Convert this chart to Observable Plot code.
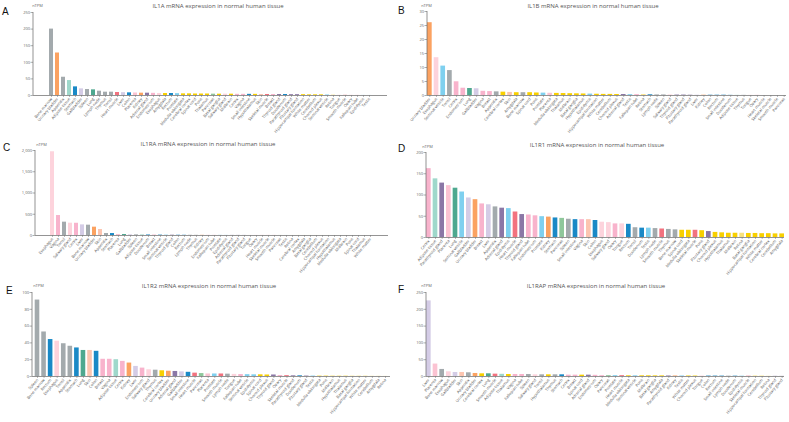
<!DOCTYPE html>
<html><head><meta charset="utf-8">
<script src="https://cdn.jsdelivr.net/npm/d3@7"></script>
<script src="https://cdn.jsdelivr.net/npm/@observablehq/plot@0.6"></script>
<style>
body{margin:0;background:#fff;}
#fig{position:relative;width:789px;height:422px;overflow:hidden;font-family:"Open Sans",sans-serif;}
.panel{position:absolute;}
.panel svg{overflow:visible;display:block;}
#overlay{position:absolute;left:0;top:0;pointer-events:none;}
</style></head><body><div id="fig"></div>
<script>
// ---------- data ----------
const tissueGroup = {
 "Bone marrow":"lymphoid","Spleen":"lymphoid","Lymph node":"lymphoid","Thymus":"lymphoid","Tonsil":"lymphoid","Appendix":"lymphoid",
 "Urinary bladder":"kidney","Kidney":"kidney",
 "Adipose tissue":"adipose",
 "Stomach":"gi","Duodenum":"gi","Small intestine":"gi","Colon":"gi","Rectum":"gi",
 "Liver":"liver","Gallbladder":"liver",
 "Lung":"lung",
 "Endometrium":"female","Cervix":"female","Vagina":"female","Fallopian tube":"female","Ovary":"female","Breast":"female",
 "Placenta":"placenta",
 "Esophagus":"proximal","Salivary gland":"proximal","Tongue":"proximal",
 "Adrenal gland":"endocrine","Thyroid gland":"endocrine","Parathyroid gland":"endocrine","Pituitary gland":"endocrine",
 "Testis":"male","Epididymis":"male","Prostate":"male","Seminal vesicle":"male",
 "Heart muscle":"muscle","Skeletal muscle":"muscle","Smooth muscle":"muscle",
 "Skin":"skin",
 "Amygdala":"brain","Basal ganglia":"brain","Cerebellum":"brain","Cerebral cortex":"brain","Choroid plexus":"brain",
 "Hippocampal formation":"brain","Hypothalamus":"brain","Medulla oblongata":"brain","Midbrain":"brain","Pons":"brain",
 "Spinal cord":"brain","Thalamus":"brain","White matter":"brain",
 "Retina":"eye","Pancreas":"pancreas"
};

const il1aTissues = ["Bone marrow","Urinary bladder","Appendix","Adipose tissue","Stomach","Gallbladder","Spleen","Lung","Lymph node","Thymus","Tonsil","Heart muscle","Liver","Colon","Placenta","Kidney","Adrenal gland","Endometrium","Esophagus","Amygdala","Rectum","Prostate","Medulla oblongata","Cerebral cortex","Spinal cord","Pons","Thalamus","Pancreas","Basal ganglia","Salivary gland","Midbrain","Cervix","Vagina","Small intestine","Hypothalamus","Skin","Skeletal muscle","Breast","Thyroid gland","Duodenum","Parathyroid gland","Pituitary gland","Hippocampal formation","White matter","Cerebellum","Choroid plexus","Seminal vesicle","Retina","Tongue","Smooth muscle","Ovary","Fallopian tube","Epididymis","Testis"];
const il1aValues = [200,128,55,45,26,20,18,17,13,10,10,9,8.5,8,7.5,7,7,6.5,6,6,6,5.5,5,5,4.5,4.5,4.5,4,4,4,4,3.5,3.5,3.5,3.5,3,3,3,3,3,2.5,2.5,2.5,2,2,2,1.5,1,0.5,0.5,0.3,0.3,0.2,0.1];
const il1aTicks = [0,50,100,150,200,250];

const il1bTissues = ["Urinary bladder","Esophagus","Seminal vesicle","Tonsil","Cervix","Endometrium","Lung","Gallbladder","Vagina","Breast","Appendix","Cerebral cortex","Skin","Amygdala","Bone marrow","Spinal cord","Pons","Prostate","Placenta","Medulla oblongata","Thalamus","Midbrain","Basal ganglia","Hypothalamus","Epididymis","Hippocampal formation","White matter","Cerebellum","Choroid plexus","Adrenal gland","Testis","Fallopian tube","Retina","Stomach","Lymph node","Spleen","Salivary gland","Thyroid gland","Pituitary gland","Parathyroid gland","Liver","Kidney","Colon","Rectum","Small intestine","Duodenum","Adipose tissue","Thymus","Tongue","Ovary","Heart muscle","Skeletal muscle","Smooth muscle","Pancreas"];
const il1bValues = [26,13.5,10.5,8.9,4.9,2.6,2.5,2.4,1.5,1.4,1.3,1.2,1.1,1.0,1.0,1.0,0.9,0.85,0.8,0.75,0.7,0.65,0.6,0.55,0.5,0.45,0.4,0.4,0.35,0.35,0.3,0.3,0.3,0.25,0.2,0.2,0.2,0.15,0.15,0.1,0.1,0.1,0.1,0.1,0.1,0.05,0.05,0.05,0.05,0.05,0,0,0,0];
const il1bTicks = [0,5,10,15,20,25,30];

const il1raTissues = ["Esophagus","Vagina","Tonsil","Salivary gland","Cervix","Liver","Bone marrow","Urinary bladder","Skin","Appendix","Stomach","Placenta","Lung","Gallbladder","Spleen","Adipose tissue","Duodenum","Breast","Small intestine","Seminal vesicle","Thyroid gland","Colon","Rectum","Lymph node","Thymus","Kidney","Endometrium","Fallopian tube","Prostate","Epididymis","Adrenal gland","Parathyroid gland","Pituitary gland","Tongue","Ovary","Heart muscle","Skeletal muscle","Smooth muscle","Pancreas","Testis","Retina","Cerebral cortex","Amygdala","Basal ganglia","Cerebellum","Choroid plexus","Hippocampal formation","Hypothalamus","Medulla oblongata","Midbrain","Pons","Spinal cord","Thalamus","White matter"];
const il1raValues = [1970,470,314,290,288,250,243,196,141,47,46,24,23,16,15,13,12,10,9,8,7,6,5,5,4,4,3,3,3,2,2,2,1.5,1.5,1,1,1,1,1,0.8,0.5,0.5,0.4,0.4,0.3,0.3,0.3,0.2,0.2,0.2,0.1,0.1,0.1,0.1];
const il1raTicks = [0,500,1000,1500,2000];

const il1r1Tissues = ["Cervix","Adipose tissue","Parathyroid gland","Placenta","Lung","Seminal vesicle","Gallbladder","Urinary bladder","Breast","Liver","Appendix","Adrenal gland","Epididymis","Heart muscle","Thyroid gland","Fallopian tube","Endometrium","Prostate","Kidney","Stomach","Pancreas","Spleen","Small intestine","Vagina","Skin","Colon","Esophagus","Salivary gland","Ovary","Tongue","Rectum","Tonsil","Duodenum","Testis","Lymph node","Smooth muscle","Thymus","Bone marrow","Spinal cord","Medulla oblongata","Skeletal muscle","Pons","Pituitary gland","Choroid plexus","Hypothalamus","Thalamus","Midbrain","Retina","Basal ganglia","Hippocampal formation","White matter","Cerebral cortex","Cerebellum","Amygdala"];
const il1r1Values = [162,138,128,122,116,107,93,89,79,77,72,69,68,60,54,53,51,49,48,46,45,43,42,42,42,40,36,35,32,32,31,23,22,22,21,20,19,18,17,17,17,16,14,12,11,10,10,10,9.5,9.5,9,9,8.5,8.5];
const il1r1Ticks = [0,50,100,150,200];

const il1r2Tissues = ["Spleen","Bone marrow","Rectum","Esophagus","Tonsil","Appendix","Stomach","Lung","Skin","Colon","Breast","Vagina","Adipose tissue","Cervix","Kidney","Liver","Endometrium","Salivary gland","Thymus","Cerebral cortex","Urinary bladder","Adrenal gland","Gallbladder","Small intestine","Heart muscle","Pancreas","Placenta","Prostate","Smooth muscle","Lymph node","Tongue","Fallopian tube","Seminal vesicle","Epididymis","Spinal cord","Choroid plexus","Thyroid gland","Ovary","Skeletal muscle","Parathyroid gland","Duodenum","Pituitary gland","Testis","Medulla oblongata","Pons","Midbrain","Hypothalamus","Thalamus","Basal ganglia","Hippocampal formation","White matter","Cerebellum","Amygdala","Retina"];
const il1r2Values = [91,53,44,42,39,36,34,31,31,30,20.5,20.5,20,18,16,12,10,8,7.5,6.8,6.3,6,5.5,5,4,3.5,3,3,3,2.8,2.5,2.3,2.2,2,2,1.8,1.8,1.2,1,0.8,0.8,0.5,0.5,0.4,0.4,0.3,0.3,0.3,0.2,0.2,0.2,0.1,0.1,0.1];
const il1r2Ticks = [0,20,40,60,80,100];

const il1rapTissues = ["Liver","Placenta","Bone marrow","Esophagus","Gallbladder","Skin","Appendix","Urinary bladder","Cerebral cortex","Lung","Smooth muscle","Adipose tissue","Thalamus","Vagina","Fallopian tube","Spleen","Salivary gland","Tonsil","Hypothalamus","Thymus","Stomach","Cervix","Breast","Spinal cord","Adrenal gland","Endometrium","Ovary","Pancreas","Prostate","Heart muscle","Medulla oblongata","Seminal vesicle","Pons","Midbrain","Basal ganglia","Amygdala","Parathyroid gland","Kidney","Testis","White matter","Choroid plexus","Tongue","Colon","Rectum","Small intestine","Lymph node","Duodenum","Epididymis","Skeletal muscle","Hippocampal formation","Cerebellum","Retina","Thyroid gland","Pituitary gland"];
const il1rapValues = [225,37,21,14,12,12,11,9,8,8,7,6.5,6,6,6,6,5,5,5,5,5,4,4,4,4,3.5,2.5,2.5,2.5,2.5,2,2,2,2,1.8,1.8,1.5,1.5,1.5,1.4,1.3,1.2,1.2,1.2,1.1,1,1,0.9,0.8,0.7,0.6,0.5,0.4,0.3];
const il1rapTicks = [0,50,100,150,200,250];

const panelLetters = ["A","B","C","D","E","F"];
const panelTitles = ["IL1A mRNA expression in normal human tissue","IL1B mRNA expression in normal human tissue","IL1RA mRNA expression in normal human tissue","IL1R1 mRNA expression in normal human tissue","IL1R2 mRNA expression in normal human tissue","IL1RAP mRNA expression in normal human tissue"];
const unitLabel = "nTPM";

// ---------- styles ----------
const groupColor = {
 lymphoid:"#a3aaad", kidney:"#fba261", adipose:"#9fd8cb", gi:"#1a89c6", liver:"#d4cce6", lung:"#4ea88f",
 female:"#f8b3cc", placenta:"#fbc3d2", proximal:"#fdd3dc", endocrine:"#8b77a6", male:"#7fd0ef",
 muscle:"#f2727f", skin:"#fcc5b0", brain:"#f8d000", eye:"#f9e27e", pancreas:"#8fc79b"
};

const panels = [
 {tissues:il1aTissues, values:il1aValues, ticks:il1aTicks, left:0, top:0, h:138, ml:33, mr:7, mt:12, mb:43, po:0.74,
  letter:[2,15], title:[218,8], unit:[37.5,7]},
 {tissues:il1bTissues, values:il1bValues, ticks:il1bTicks, left:395, top:0, h:138, ml:32, mr:3, mt:11, mb:43, po:0,
  letter:[398,14], title:[593,8], unit:[426.5,7]},
 {tissues:il1raTissues, values:il1raValues, ticks:il1raTicks, left:0, top:138, h:142, ml:35, mr:6, mt:12, mb:45, po:0.11,
  letter:[3,151], title:[208,146], unit:[41.5,145.5]},
 {tissues:il1r1Tissues, values:il1r1Values, ticks:il1r1Ticks, left:395, top:138, h:142, ml:31, mr:5, mt:14, mb:43, po:0,
  letter:[398,152], title:[597,147], unit:[427.5,147.5]},
 {tissues:il1r2Tissues, values:il1r2Values, ticks:il1r2Ticks, left:0, top:280, h:142, ml:32, mr:4, mt:12, mb:46, po:0.41,
  letter:[6,294], title:[209,288], unit:[38.5,286.5]},
 {tissues:il1rapTissues, values:il1rapValues, ticks:il1rapTicks, left:395, top:280, h:142, ml:31, mr:5, mt:12, mb:46, po:0,
  letter:[398,293], title:[596,288], unit:[426.5,286.5]}
];

const fig = document.getElementById("fig");

panels.forEach((cfg) => {
  const data = cfg.tissues.map((t, i) => ({tissue: t, value: cfg.values[i]}));
  const plot = Plot.plot({
    width: 394, height: cfg.h,
    marginLeft: cfg.ml, marginRight: cfg.mr, marginTop: cfg.mt, marginBottom: cfg.mb,
    style: {fontFamily: "'Open Sans', sans-serif", color: "#666", background: "transparent", overflow: "visible"},
    x: {type: "band", domain: cfg.tissues, paddingInner: 0.3, paddingOuter: cfg.po, label: null},
    y: {domain: [0, cfg.ticks[cfg.ticks.length - 1]], label: null},
    marks: [
      Plot.barY(data, {x: "tissue", y: "value", fill: d => groupColor[tissueGroup[d.tissue]]}),
      Plot.ruleY([0], {stroke: "#666", strokeWidth: 0.7}),
      Plot.axisY(cfg.ticks, {tickSize: 2.5, tickPadding: 1, fontSize: 4, tickFormat: d3.format(","), stroke: "#777", strokeWidth: 0.6, fill: "#666"}),
      Plot.axisX({tickSize: 2, tickPadding: 0.8, tickRotate: -50, fontSize: 4, fill: "#555", stroke: "#777", strokeWidth: 0.5})
    ]
  });
  d3.select(plot).append("line")
    .attr("x1", cfg.ml).attr("x2", cfg.ml)
    .attr("y1", cfg.mt).attr("y2", cfg.h - cfg.mb)
    .attr("stroke", "#666").attr("stroke-width", 0.7);
  const div = document.createElement("div");
  div.className = "panel";
  div.style.left = cfg.left + "px";
  div.style.top = cfg.top + "px";
  div.appendChild(plot);
  fig.appendChild(div);
});

// overlay texts
const ov = d3.select(fig).append("svg").attr("id", "overlay").attr("width", 789).attr("height", 422);
panels.forEach((cfg, i) => {
  ov.append("text").attr("x", cfg.letter[0]).attr("y", cfg.letter[1])
    .attr("font-family", "'Liberation Sans', Arial, sans-serif").attr("font-size", 10).attr("fill", "#111")
    .text(panelLetters[i]);
  ov.append("text").attr("x", cfg.title[0]).attr("y", cfg.title[1]).attr("text-anchor", "middle")
    .attr("font-family", "'Open Sans', sans-serif").attr("font-size", 6).attr("fill", "#555")
    .text(panelTitles[i]);
  ov.append("text").attr("x", cfg.unit[0]).attr("y", cfg.unit[1]).attr("text-anchor", "middle")
    .attr("font-family", "'Open Sans', sans-serif").attr("font-size", 4).attr("fill", "#666")
    .text(unitLabel);
});
</script>
</body></html>
